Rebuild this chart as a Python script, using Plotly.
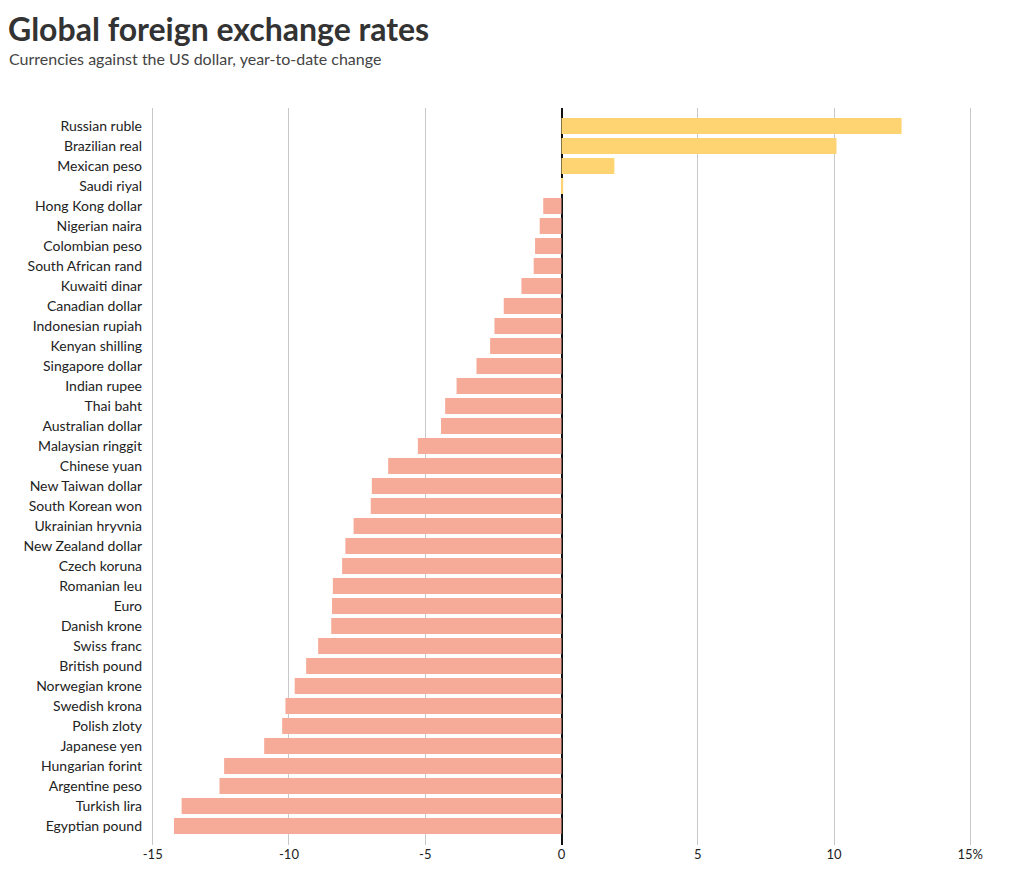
import plotly.graph_objects as go

currencies = [
    "Russian ruble", "Brazilian real", "Mexican peso", "Saudi riyal",
    "Hong Kong dollar", "Nigerian naira", "Colombian peso", "South African rand",
    "Kuwaiti dinar", "Canadian dollar", "Indonesian rupiah", "Kenyan shilling",
    "Singapore dollar", "Indian rupee", "Thai baht", "Australian dollar",
    "Malaysian ringgit", "Chinese yuan", "New Taiwan dollar", "South Korean won",
    "Ukrainian hryvnia", "New Zealand dollar", "Czech koruna", "Romanian leu",
    "Euro", "Danish krone", "Swiss franc", "British pound", "Norwegian krone",
    "Swedish krona", "Polish zloty", "Japanese yen", "Hungarian forint",
    "Argentine peso", "Turkish lira", "Egyptian pound",
]
ytd_change = [
    12.48, 10.09, 1.94, 0.06,
    -0.67, -0.80, -0.97, -1.02,
    -1.47, -2.12, -2.46, -2.62,
    -3.12, -3.85, -4.27, -4.42,
    -5.27, -6.36, -6.96, -7.00,
    -7.63, -7.93, -8.05, -8.39,
    -8.42, -8.45, -8.93, -9.37, -9.79,
    -10.13, -10.25, -10.91, -12.38,
    -12.55, -13.94, -14.22,
]
tick_vals = [-15, -10, -5, 0, 5, 10, 15]
tick_text = ["-15", "-10", "-5", "0", "5", "10", "15%"]

POS = "#FED372"
NEG = "#F6AB98"
colors = [POS if v >= 0 else NEG for v in ytd_change]

FONT = "Lato"

# page body has an 8px margin; plot area spans x 150..973, y 108..845 on screen
PL, PR, PT, PB = 150, 973, 108, 845
PW, PH = PR - PL, PB - PT

fig = go.Figure(go.Bar(
    x=ytd_change, y=currencies, orientation="h",
    marker=dict(color=colors, line=dict(width=0)),
    hoverinfo="x+y",
))

fig.update_layout(
    width=1016, height=882,
    margin=dict(l=PL - 8, r=1024 - PR, t=PT - 8, b=890 - PB),
    paper_bgcolor="white", plot_bgcolor="white",
    bargap=0.2,
    showlegend=False,
    font=dict(family=FONT, color="#222", size=13),
    xaxis=dict(
        range=[-15.1, 15.1],
        tickvals=tick_vals, ticktext=tick_text,
        showgrid=True, gridcolor="#c8c8c8", gridwidth=1.2,
        zeroline=True, zerolinecolor="#111", zerolinewidth=2,
        showline=False, ticks="",
        tickfont=dict(size=13, color="#222"),
        fixedrange=True,
    ),
    yaxis=dict(
        categoryorder="array", categoryarray=currencies,
        range=[35.95, -0.9],
        showgrid=False, zeroline=False, showline=False, ticks="",
        ticklabelstandoff=7,
        tickfont=dict(size=14, color="#222"),
        fixedrange=True,
    ),
    annotations=[
        dict(text="<b>Global foreign exchange rates</b>", xref="paper", yref="paper",
             x=(6 - PL) / PW, y=(PB - 29) / PH, xanchor="left", yanchor="middle",
             showarrow=False, font=dict(family=FONT, size=32, color="#333")),
        dict(text="Currencies against the US dollar, year-to-date change", xref="paper", yref="paper",
             x=(7 - PL) / PW, y=(PB - 59) / PH, xanchor="left", yanchor="middle",
             showarrow=False, font=dict(family=FONT, size=16, color="#444")),
    ],
)

fig.write_html("out.html")
